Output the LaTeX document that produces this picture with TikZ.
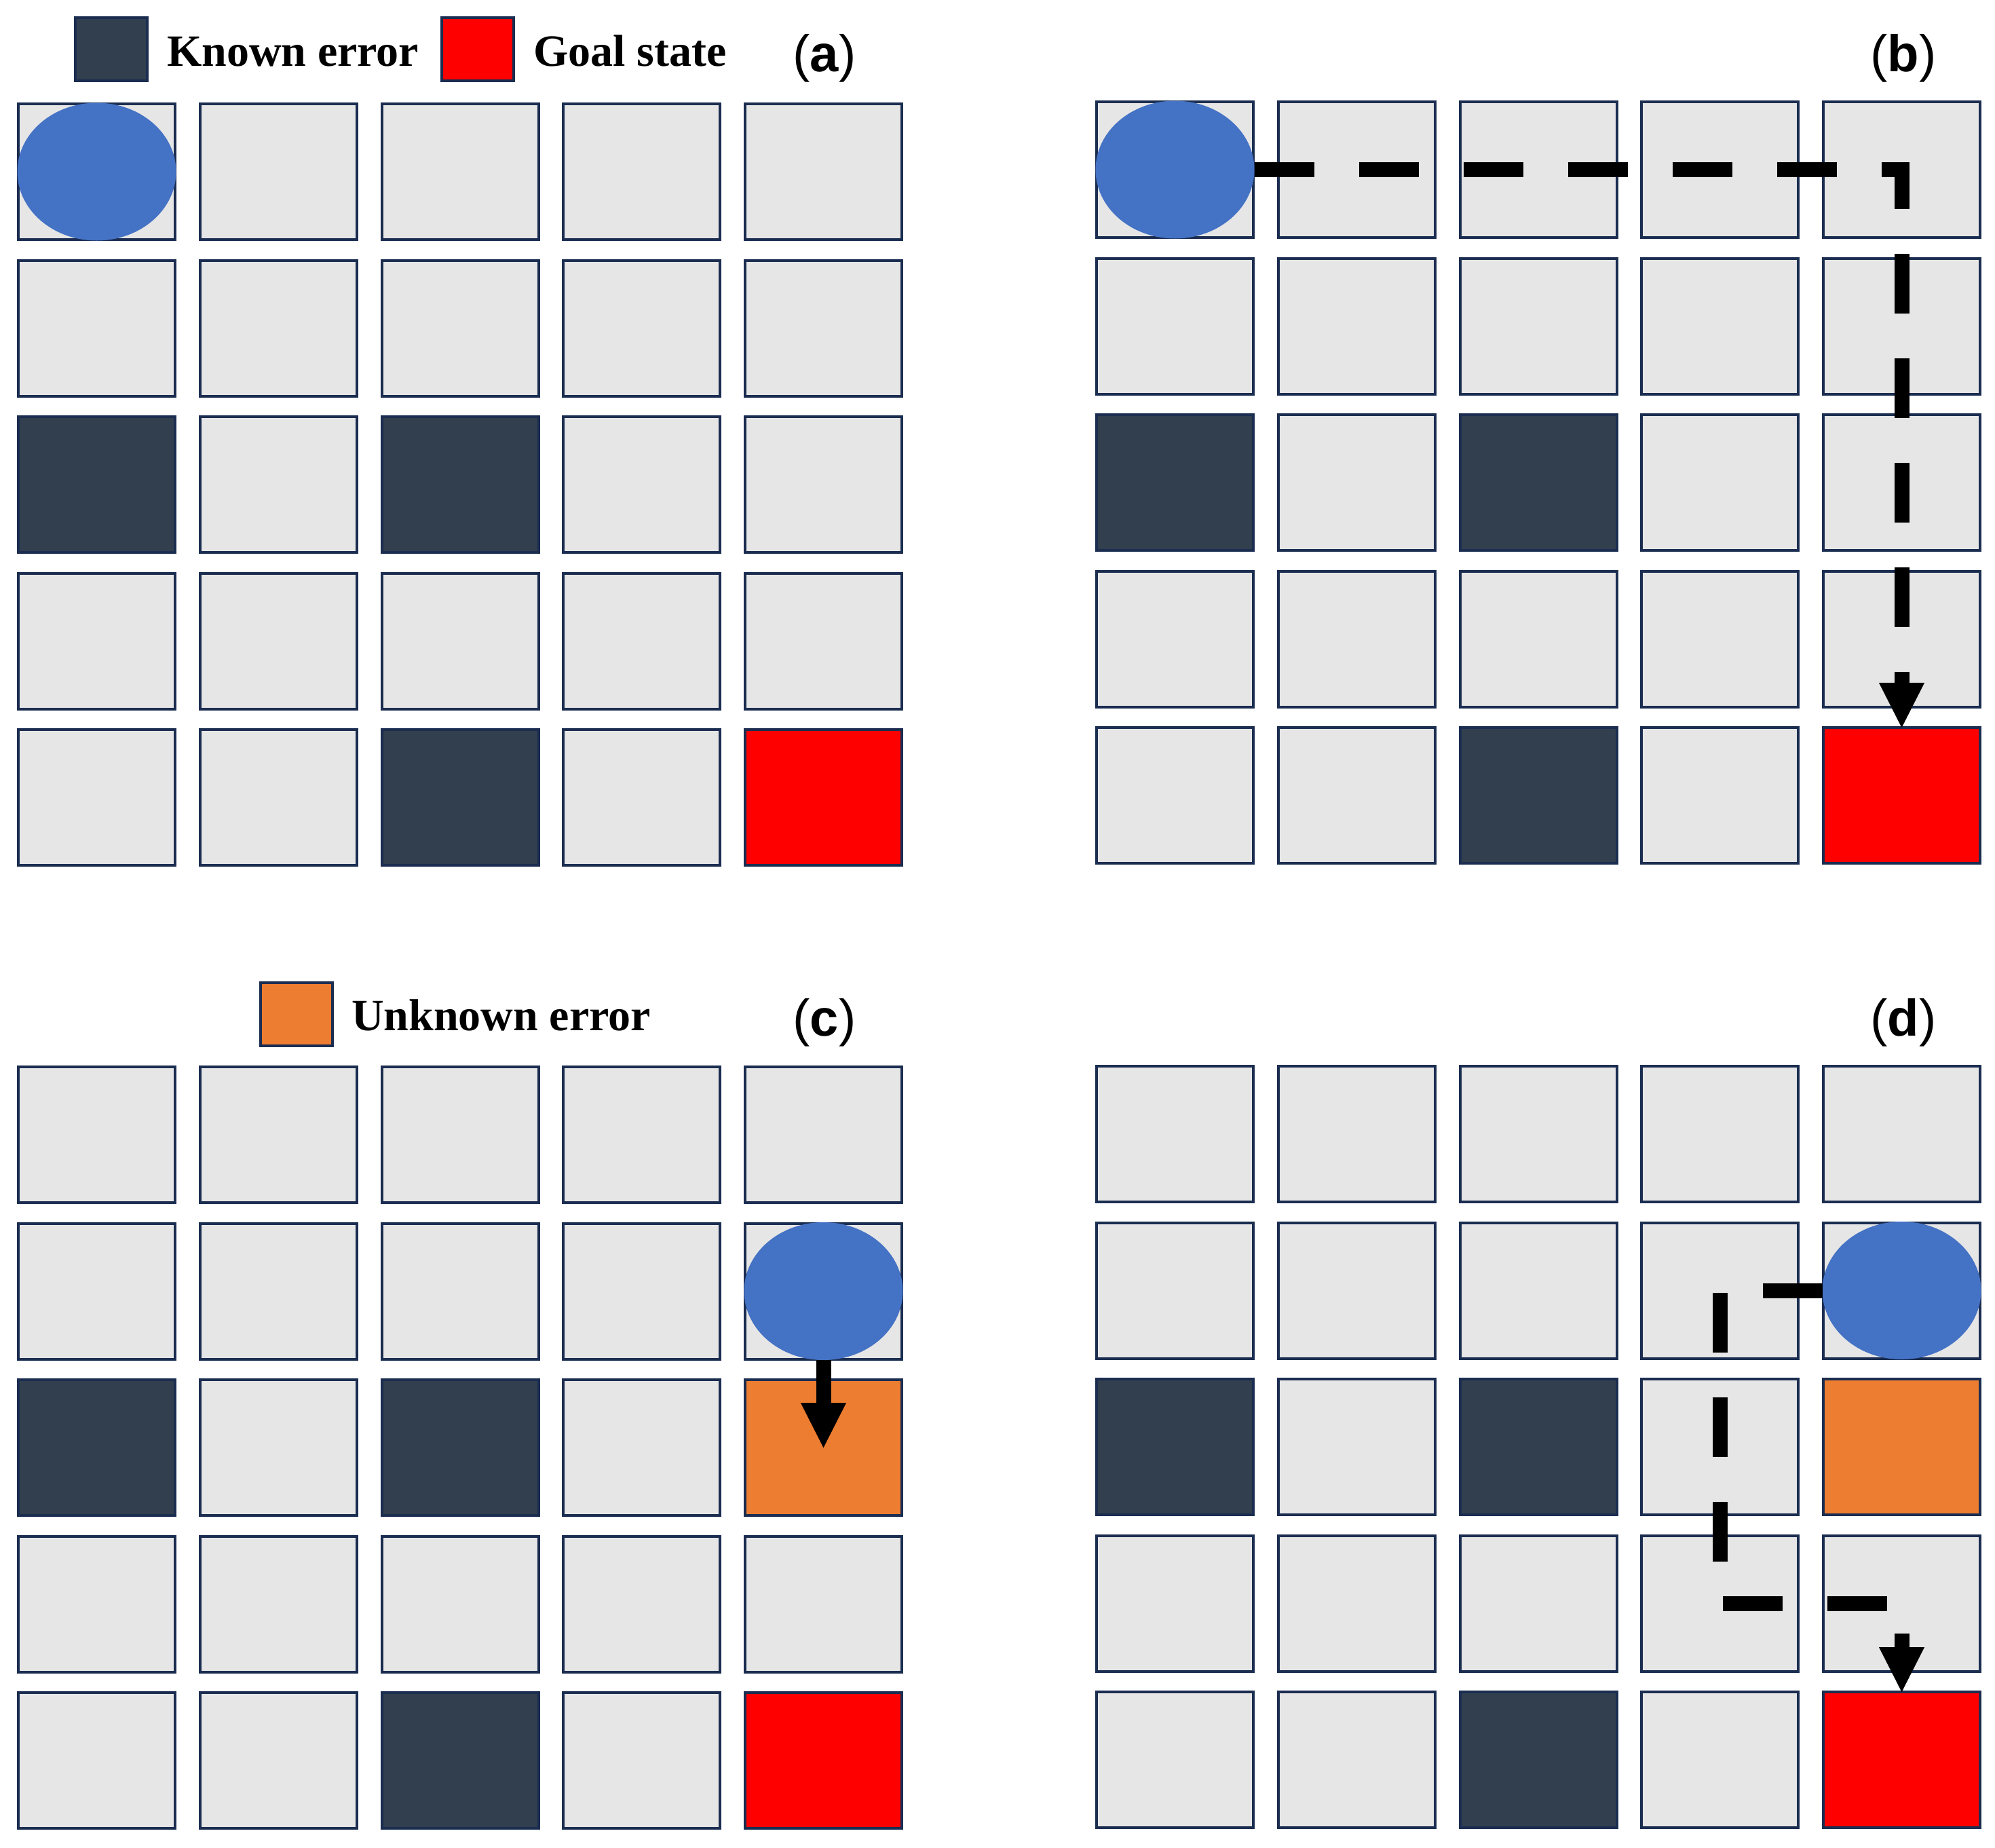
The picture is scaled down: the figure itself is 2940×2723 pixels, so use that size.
\documentclass[tikz,border=0pt]{standalone}
\usepackage{fontspec}
\setmainfont{Liberation Serif}
\newfontfamily\labfont{Liberation Sans}
\usetikzlibrary{shapes.geometric,arrows.meta,calc}
\definecolor{cellgray}{HTML}{E6E6E6}
\definecolor{cellborder}{HTML}{1B2D50}
\definecolor{errdark}{HTML}{323F4F}
\definecolor{goalred}{HTML}{FF0000}
\definecolor{unkorange}{HTML}{ED7D31}
\definecolor{agentblue}{HTML}{4472C4}
\newcommand\setcellkind[2]{\expandafter\def\csname cs-#1\endcsname{#2}}
\setcellkind{a-2-0}{errcell}\setcellkind{a-2-2}{errcell}\setcellkind{a-4-2}{errcell}\setcellkind{a-4-4}{goalcell}
\setcellkind{b-2-0}{errcell}\setcellkind{b-2-2}{errcell}\setcellkind{b-4-2}{errcell}\setcellkind{b-4-4}{goalcell}
\setcellkind{c-2-0}{errcell}\setcellkind{c-2-2}{errcell}\setcellkind{c-4-2}{errcell}\setcellkind{c-4-4}{goalcell}\setcellkind{c-2-4}{unkcell}
\setcellkind{d-2-0}{errcell}\setcellkind{d-2-2}{errcell}\setcellkind{d-4-2}{errcell}\setcellkind{d-4-4}{goalcell}\setcellkind{d-2-4}{unkcell}
\tikzset{
  cell/.style={rectangle, draw=cellborder, line width=4pt, minimum width=231pt, minimum height=200pt, inner sep=0pt, outer sep=0pt},
  lightcell/.style={fill=cellgray},
  errcell/.style={fill=errdark},
  goalcell/.style={fill=goalred},
  unkcell/.style={fill=unkorange},
  agent/.style={ellipse, fill=agentblue, minimum width=234pt, minimum height=203pt, inner sep=0pt, outer sep=0pt},
  legendbox/.style={rectangle, draw=cellborder, line width=4pt, minimum width=106pt, minimum height=93pt, inner sep=0pt},
  legendtext/.style={font=\fontsize{66}{70}\selectfont\bfseries, anchor=base west, inner sep=0pt},
  paneltag/.style={font=\labfont\fontsize{76}{80}\selectfont, anchor=base, inner sep=0pt},
  pathline/.style={line width=22pt, dash pattern=on 88pt off 66pt, line cap=butt, line join=miter,
    -{Triangle[length=66pt,width=67pt,line width=0.1pt]}},
  moveline/.style={line width=22pt, line cap=butt,
    -{Triangle[length=66pt,width=67pt,line width=0.1pt]}},
}
\begin{document}
\begin{tikzpicture}[x=1pt,y=-1pt]
\useasboundingbox[fill=white] (0,0) rectangle (2940,2723);
% grids
\foreach \p/\xo/\yo in {a/25/151,b/1614/148,c/25/1570,d/1614/1569}{
  \foreach \rr in {0,...,4}{
    \foreach \cc in {0,...,4}{
      \edef\cellst{\ifcsname cs-\p-\rr-\cc\endcsname\csname cs-\p-\rr-\cc\endcsname\else lightcell\fi}
      \node[cell,\cellst] (\p-\rr-\cc) at ({\xo+\cc*267.75+117.5},{\yo+\rr*230.5+102}) {};
    }
  }
}
% agents
\node[agent] (a-agent) at (a-0-0) {};
\node[agent] (b-agent) at (b-0-0) {};
\node[agent] (c-agent) at (c-1-4) {};
\node[agent] (d-agent) at (d-1-4) {};
% paths
\draw[pathline] (b-agent.east) -| (b-4-4.north);
\draw[moveline] (c-agent.south) -- (c-2-4.center);
\draw[pathline] (d-agent.west) -| (d-3-3.center) -| (d-4-4.north);
% legends
\node[legendbox, fill=errdark] (leg-known) at (164,72.5) {};
\node[legendtext] (leg-known-t) at (246,97) {Known error};
\node[legendbox, fill=goalred] (leg-goal) at (703.5,72.5) {};
\node[legendtext] (leg-goal-t) at (786,97) {Goal state};
\node[legendbox, fill=unkorange] (leg-unk) at (436.5,1494) {};
\node[legendtext] (leg-unk-t) at (518,1518) {Unknown error};
% panel tags
\node[paneltag] (tag-a) at (1215,105) {(\textbf{a})};
\node[paneltag] (tag-b) at (2805,105) {(\textbf{b})};
\node[paneltag] (tag-c) at (1215,1526) {(\textbf{c})};
\node[paneltag] (tag-d) at (2805,1526) {(\textbf{d})};
\end{tikzpicture}
\end{document}
